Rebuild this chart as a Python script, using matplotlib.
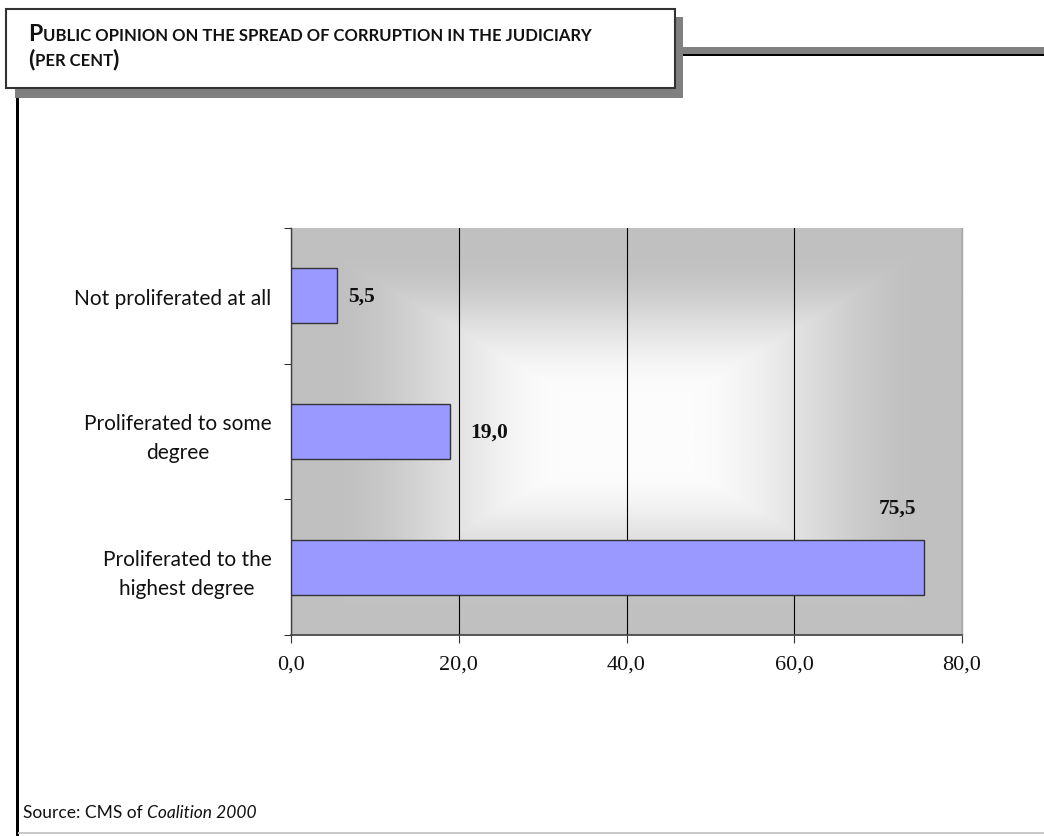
import numpy as np
import matplotlib
matplotlib.use("Agg")
import matplotlib.pyplot as plt
from matplotlib.patches import Rectangle
from matplotlib.colors import LinearSegmentedColormap

# ---------------- data ----------------
categories = ["Proliferated to the\nhighest degree",
              "Proliferated to some\ndegree",
              "Not proliferated at all"]
values = [75.5, 19.0, 5.5]
value_labels = ["75,5", "19,0", "5,5"]
xticks = [0, 20, 40, 60, 80]
xtick_labels = ["0,0", "20,0", "40,0", "60,0", "80,0"]
source_plain = "Source: CMS of "
source_italic = "Coalition 2000"

W, H = 1044, 837
fig = plt.figure(figsize=(W / 100, H / 100), dpi=100)
fig.patch.set_facecolor("white")

# background axes in pixel coordinates (y downwards)
bg = fig.add_axes([0, 0, 1, 1])
bg.set_xlim(0, W)
bg.set_ylim(H, 0)
bg.axis("off")

SANS = ["Lato", "DejaVu Sans"]
SERIF = ["Liberation Serif", "DejaVu Serif"]

# title box with shadow
bg.add_patch(Rectangle((15, 18), 668, 81, facecolor="#808080", edgecolor="none", zorder=1))
bg.add_patch(Rectangle((6, 10), 669, 79, facecolor="white", edgecolor="#333333", lw=1.5, zorder=2))
# horizontal rule right of box (gray shadow + black line)
bg.add_patch(Rectangle((683, 48), W - 683, 7, facecolor="#808080", edgecolor="none", zorder=1))
bg.add_patch(Rectangle((683, 54.5), W - 683, 2.7, facecolor="black", edgecolor="none", zorder=1))
# left vertical rule
bg.add_patch(Rectangle((15.5, 99), 3, H - 99, facecolor="black", edgecolor="none", zorder=1))
# bottom light rule
bg.add_patch(Rectangle((18, 833), W - 18, 2, facecolor="#c8c8c8", edgecolor="none", zorder=1))

renderer = fig.canvas.get_renderer()


def seq_text(x, y, pieces, gaps):
    for (s, size, kw), g in zip(pieces, gaps):
        t = bg.text(x, y, s, fontsize=size, va="baseline", ha="left", zorder=3, **kw)
        bb = t.get_window_extent(renderer)
        x += bb.width + g
    return x


big, small = 16.5, 12
tkw = dict(family=SANS, fontweight="bold", color="#111111")
seq_text(28, 41, [("P", big, tkw),
                  ("UBLIC OPINION ON THE SPREAD OF CORRUPTION IN THE JUDICIARY", small, tkw)], [1, 0])
seq_text(28, 66, [("(", big, tkw), ("PER CENT", small, tkw), (")", big, tkw)], [1, -1, 0])

# source
skw = dict(family=SANS, color="#111111")
x_end = seq_text(23, 818, [(source_plain.rstrip(), 12.5, skw)], [0])
seq_text(x_end + 4, 818, [(source_italic, 12.5, dict(family=SANS, style="italic", color="#111111"))], [0])

# ---------------- main chart ----------------
ax = fig.add_axes([291 / W, 1 - 636 / H, (962 - 291) / W, (636 - 229) / H])
ypos = np.arange(len(categories))
ax.set_xlim(xticks[0], xticks[-1])
ax.set_ylim(-0.5, len(categories) - 0.5)

# rectangular centre gradient background
nx, ny = 400, 300
gx = np.linspace(-1, 1, nx)
gy = np.linspace(-1, 1, ny)
GX, GY = np.meshgrid(gx, gy)
t = np.maximum(np.abs(GX), np.abs(GY))
t = np.clip((t - 0.18) / (0.9 - 0.18), 0, 1)
t = t * t * (3 - 2 * t)
cmap = LinearSegmentedColormap.from_list("g", ["#fcfcfc", "#c0c0c0"])
ax.imshow(t, cmap=cmap, vmin=0, vmax=1, extent=[xticks[0], xticks[-1], -0.5, len(categories) - 0.5],
          aspect="auto", origin="lower", zorder=0, interpolation="bilinear")

ax.grid(axis="x", color="black", lw=0.8, zorder=1)
ax.set_axisbelow(True)

ax.barh(ypos, values, height=0.405, color="#9999ff", edgecolor="#333333", lw=1.0, zorder=3)

# value labels
offsets = [(-27, 60, "center"), (20, 0, "left"), (11, 0, "left")]
for v, lab, y, (dx, dy, ha) in zip(values, value_labels, ypos, offsets):
    ax.annotate(lab, xy=(v, y), xytext=(dx, dy), textcoords="offset pixels",
                ha=ha, va="center", fontsize=15.5, fontweight="bold", family=SERIF,
                color="#111111", zorder=4)

ax.set_xticks(xticks)
ax.set_xticklabels(xtick_labels, family=SERIF, fontsize=16, color="#111111")
ax.tick_params(axis="x", direction="out", length=6, width=0.8, color="#333333", pad=8)

ax.set_yticks(np.arange(-0.5, len(categories), 1.0))
ax.set_yticklabels([])
ax.tick_params(axis="y", which="major", direction="out", length=5, width=0.8, color="#333333")
ax.set_yticks(ypos, minor=True)
ax.set_yticklabels(categories, minor=True, family=SANS, fontsize=15, color="#111111",
                   multialignment="center", linespacing=1.55)
ax.tick_params(axis="y", which="minor", length=0, pad=14)

ax.spines["top"].set_visible(False)
ax.spines["right"].set_color("#a8a8a8")
ax.spines["right"].set_linewidth(1.0)
ax.spines["left"].set_color("#404040")
ax.spines["bottom"].set_color("#404040")
ax.spines["left"].set_linewidth(1.0)
ax.spines["bottom"].set_linewidth(1.2)

fig.savefig("out.png", dpi=100, facecolor="white")
